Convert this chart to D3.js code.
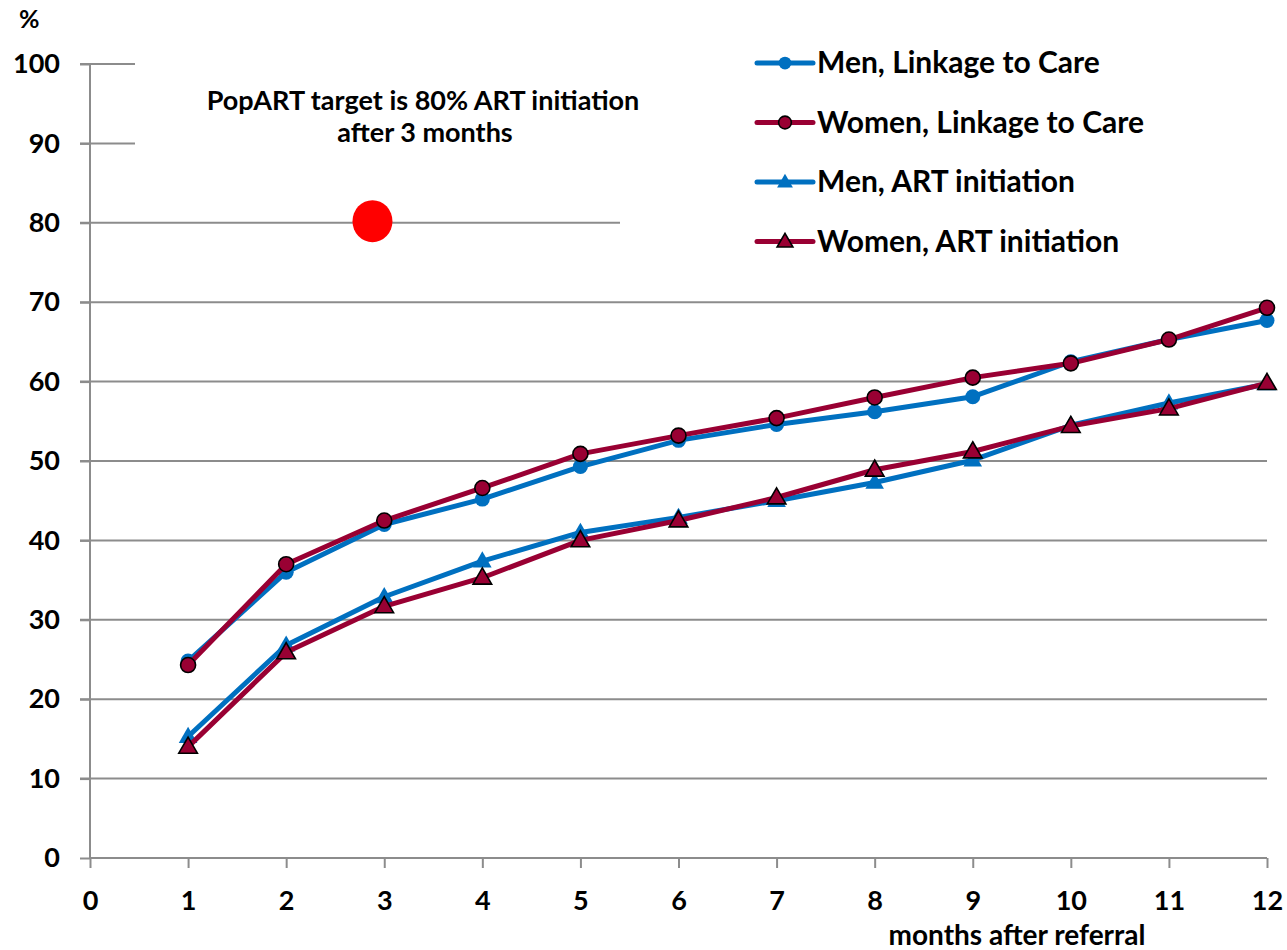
<!DOCTYPE html>
<html lang="en">
<head>
<meta charset="utf-8">
<script src="https://cdn.jsdelivr.net/npm/d3@7"></script>
<style>
    body { margin: 0; background: #fff; }
    text { font-family: Lato, "Open Sans", sans-serif; font-weight: bold; fill: #000; }
</style>
</head>
<body>
<div id="chart"></div>
<script>
    // data
    const months = [1, 2, 3, 4, 5, 6, 7, 8, 9, 10, 11, 12];
    const menLinkage   = [24.8, 36.0, 42.0, 45.2, 49.3, 52.6, 54.6, 56.2, 58.1, 62.5, 65.3, 67.7];
    const womenLinkage = [24.3, 37.0, 42.5, 46.6, 50.9, 53.2, 55.4, 58.0, 60.5, 62.3, 65.3, 69.3];
    const menART       = [15.3, 26.8, 32.9, 37.4, 41.0, 42.9, 45.0, 47.3, 50.1, 54.5, 57.3, 59.7];
    const womenART     = [14.0, 25.9, 31.7, 35.3, 40.0, 42.5, 45.4, 48.9, 51.2, 54.4, 56.6, 59.8];
    const xTicks = [0, 1, 2, 3, 4, 5, 6, 7, 8, 9, 10, 11, 12];
    const yTicks = [0, 10, 20, 30, 40, 50, 60, 70, 80, 90, 100];
    const target = { month: 2.88, value: 80.2 };

    const series = [
        { name: "Men, Linkage to Care", values: menLinkage, color: "#0070c0", shape: "circle", outline: false },
        { name: "Women, Linkage to Care", values: womenLinkage, color: "#990033", shape: "circle", outline: true },
        { name: "Men, ART initiation", values: menART, color: "#0070c0", shape: "triangle", outline: false },
        { name: "Women, ART initiation", values: womenART, color: "#990033", shape: "triangle", outline: true }
    ];

    const width = 1287, height = 950;
    const svg = d3.select("#chart").append("svg")
        .attr("width", width)
        .attr("height", height);

    const x = d3.scaleLinear().domain([0, 12]).range([90, 1267]);
    const y = d3.scaleLinear().domain([0, 100]).range([858, 64]);

    // gridlines
    svg.append("g")
        .selectAll("line")
        .data(yTicks.filter(d => d > 0))
        .enter().append("line")
        .attr("x1", 80).attr("x2", x(12))
        .attr("y1", d => y(d)).attr("y2", d => y(d))
        .attr("stroke", "#8c8c8c").attr("stroke-width", 2);

    // white boxes of the annotation and legend hide part of the grid
    svg.append("rect").attr("x", 135).attr("y", 40).attr("width", 485).attr("height", 150).attr("fill", "#fff");
    svg.append("rect").attr("x", 620).attr("y", 30).attr("width", 667).attr("height", 245).attr("fill", "#fff");

    // axes
    const yAxis = svg.append("g").attr("transform", `translate(${x(0)},0)`)
        .call(d3.axisLeft(y).tickValues(yTicks).tickSize(10).tickPadding(20));
    const xAxis = svg.append("g").attr("transform", `translate(0,${y(0)})`)
        .call(d3.axisBottom(x).tickValues(xTicks).tickSize(10).tickPadding(23));
    [yAxis, xAxis].forEach(a => {
        a.select(".domain").attr("stroke", "#8c8c8c").attr("stroke-width", 2);
        a.selectAll(".tick line").attr("stroke", "#8c8c8c").attr("stroke-width", 2);
        a.selectAll(".tick text").style("font-size", "27px").style("font-family", "Lato, sans-serif")
            .style("font-weight", "bold").attr("fill", "#000");
    });
    yAxis.select(".domain").attr("d", `M0,${y(0)}V${y(100)}`);
    xAxis.select(".domain").attr("d", `M${x(0)},0H${x(12)}`);

    // series
    const line = d3.line().x((d, i) => x(months[i])).y(d => y(d));

    function marker(g, s, cx, cy, scale) {
        if (s.shape === "circle") {
            g.append("circle").attr("cx", cx).attr("cy", cy).attr("r", 7.5 * scale)
                .attr("fill", s.color)
                .attr("stroke", s.outline ? "#000" : "none").attr("stroke-width", 1.6);
        } else {
            g.append("path").attr("d", d3.symbol().type(d3.symbolTriangle).size(150 * scale * scale)())
                .attr("transform", `translate(${cx},${cy + 1})`)
                .attr("fill", s.color)
                .attr("stroke", s.outline ? "#000" : "none").attr("stroke-width", 1.6);
        }
    }

    series.forEach(s => {
        const g = svg.append("g");
        g.append("path").datum(s.values)
            .attr("d", line)
            .attr("fill", "none")
            .attr("stroke", s.color)
            .attr("stroke-width", 5)
            .attr("stroke-linejoin", "round");
        s.values.forEach((v, i) => marker(g, s, x(months[i]), y(v), 1));
    });

    // target dot
    svg.append("ellipse")
        .attr("cx", x(target.month)).attr("cy", y(target.value))
        .attr("rx", 20).attr("ry", 21)
        .attr("fill", "#ff0000");

    // annotation
    svg.append("text").attr("x", 423).attr("y", 110).attr("text-anchor", "middle")
        .style("font-size", "27px").text("PopART target is 80% ART initiation");
    svg.append("text").attr("x", 425).attr("y", 142).attr("text-anchor", "middle")
        .style("font-size", "27px").text("after 3 months");

    // legend
    const legend = svg.append("g");
    series.forEach((s, i) => {
        const ly = 63 + i * 59.5;
        const lg = legend.append("g");
        lg.append("line").attr("x1", 757).attr("x2", 813).attr("y1", ly).attr("y2", ly)
            .attr("stroke", s.color).attr("stroke-width", 5).attr("stroke-linecap", "round");
        marker(lg, s, 785, ly, 0.85);
        lg.append("text").attr("x", 817).attr("y", ly + 10)
            .style("font-size", "30px").text(s.name);
    });

    // axis titles
    svg.append("text").attr("x", 19).attr("y", 28).style("font-size", "25px").text("%");
    svg.append("text").attr("x", 1017).attr("y", 945).attr("text-anchor", "middle")
        .style("font-size", "28px").text("months after referral");
</script>
</body>
</html>
